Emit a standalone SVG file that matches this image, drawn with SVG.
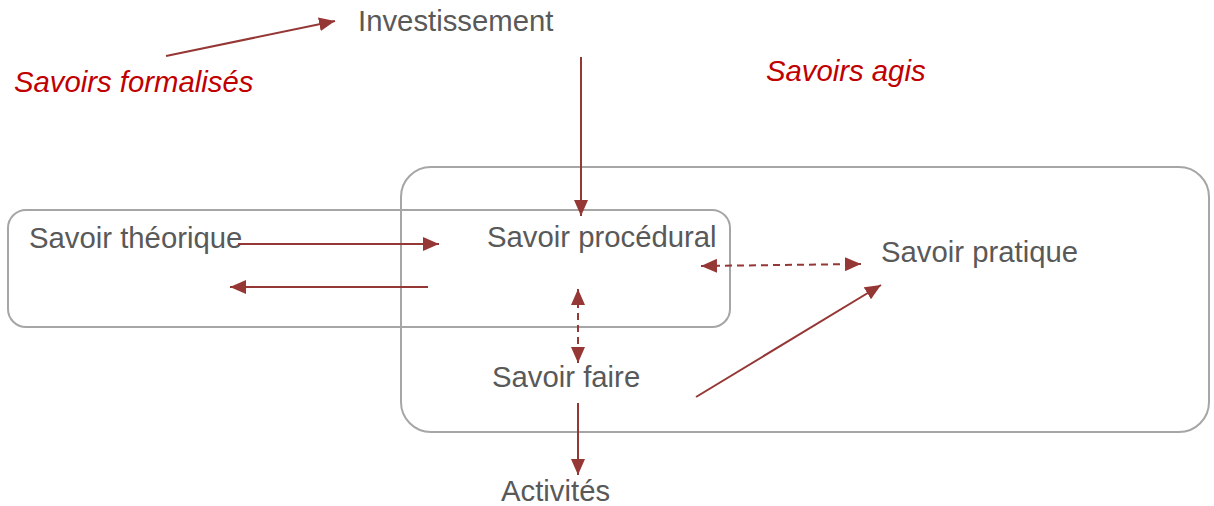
<svg xmlns="http://www.w3.org/2000/svg" width="1214" height="506" viewBox="0 0 1214 506">
<style>
.t{font-family:"Liberation Sans",Arial,sans-serif;font-size:29.3px;fill:#595959}
.r{font-family:"Liberation Sans",Arial,sans-serif;font-size:29.3px;font-style:italic;fill:#C00000}
.box{fill:none;stroke:#A6A6A6;stroke-width:2}
.c{stroke:#953735;stroke-width:2;fill:none}
.d{stroke-dasharray:7,5}
</style>
<defs>
<marker id="ah" markerUnits="userSpaceOnUse" markerWidth="16" markerHeight="14" refX="16" refY="7" orient="auto-start-reverse" viewBox="0 0 16 14">
<path d="M0,0 L16,7 L0,14 Z" fill="#953735"/>
</marker>
</defs>
<rect width="1214" height="506" fill="#fff"/>
<g id="zone-theorique"><rect class="box" x="8" y="210" width="722" height="117" rx="18"/></g>
<g id="zone-agis"><rect class="box" x="401" y="167" width="808" height="265" rx="30"/></g>
<g id="label-formalises"><text class="r" x="14" y="92">Savoirs formalisés</text></g>
<g id="label-agis"><text class="r" x="766" y="81">Savoirs agis</text></g>
<g id="investissement"><text class="t" x="358" y="31">Investissement</text></g>
<g id="theorique"><text class="t" x="29" y="248">Savoir théorique</text></g>
<g id="procedural"><text class="t" x="487" y="247">Savoir procédural</text></g>
<g id="pratique"><text class="t" x="881" y="262">Savoir pratique</text></g>
<g id="faire"><text class="t" x="492" y="387">Savoir faire</text></g>
<g id="activites"><text class="t" x="501" y="501">Activités</text></g>
<g id="connectors">
<line class="c" x1="166" y1="56" x2="335" y2="21" marker-end="url(#ah)"/>
<line class="c" x1="581" y1="57" x2="581" y2="216" marker-end="url(#ah)"/>
<line class="c" x1="238" y1="244" x2="439" y2="244" marker-end="url(#ah)"/>
<line class="c" x1="428" y1="287" x2="230" y2="287" marker-end="url(#ah)"/>
<line class="c d" x1="701" y1="266" x2="861" y2="264" marker-start="url(#ah)" marker-end="url(#ah)"/>
<line class="c d" x1="578" y1="289" x2="578" y2="363" marker-start="url(#ah)" marker-end="url(#ah)"/>
<line class="c" x1="696" y1="397" x2="881" y2="285" marker-end="url(#ah)"/>
<line class="c" x1="578" y1="403" x2="578" y2="475" marker-end="url(#ah)"/>
</g>
</svg>
